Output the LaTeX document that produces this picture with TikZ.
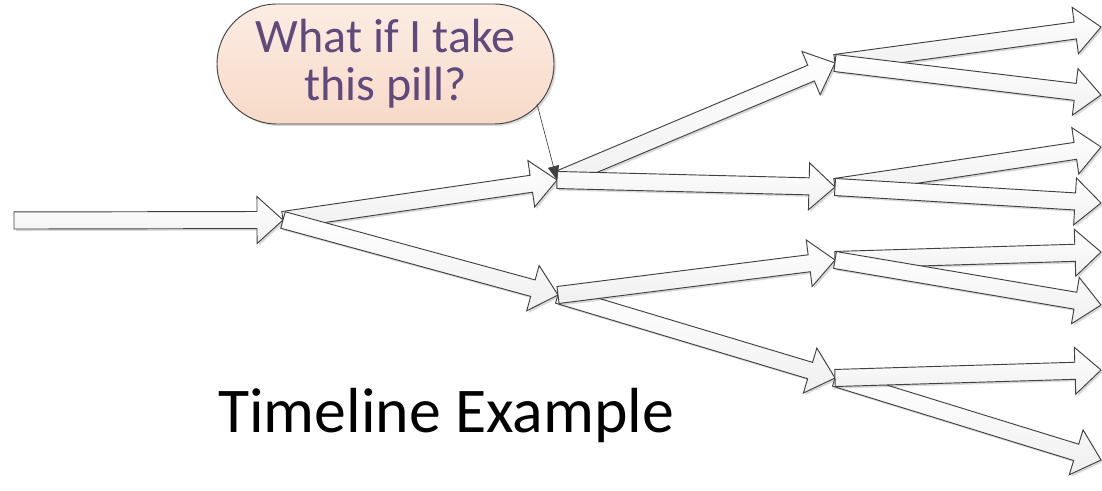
\documentclass[tikz,border=0pt]{standalone}
\usepackage{fontspec}
\setmainfont{Carlito}
\usetikzlibrary{calc,shadows,arrows.meta}
\definecolor{edgegray}{RGB}{64,64,64}
\definecolor{pilltop}{RGB}{252,236,227}
\definecolor{pillbot}{RGB}{247,218,200}
\definecolor{pilltext}{RGB}{96,74,124}
\tikzset{
  blockarrow/.style={draw=edgegray, line width=0.7pt, line join=miter,
    top color=white, bottom color=black!6,
    drop shadow={shadow xshift=1.5pt, shadow yshift=-1.5pt, opacity=0.15, fill=black}},
  pill/.style={draw=edgegray, line width=0.7pt, rounded corners=45pt,
    minimum width=252.75pt, minimum height=90pt, inner sep=0pt,
    top color=pilltop, bottom color=pillbot,
    drop shadow={shadow xshift=1.5pt, shadow yshift=-1.5pt, opacity=0.15, fill=black},
    text=pilltext, align=center, font=\fontsize{36}{36}\selectfont},
  conn/.style={draw=edgegray, line width=0.5pt, -{Triangle[length=10.5pt, width=8.5pt]}},
  title/.style={font=\fontsize{47.8}{56}\selectfont, text=black, inner sep=0pt}
}
\newcommand\barrow[2]{%
  \coordinate (bc) at ($(#2)!19.5pt!(#1)$);
  \path[blockarrow] ($(#1)!6.4pt!90:(#2)$) -- ($(bc)!6.4pt!-90:(#1)$)
    -- ($(bc)!17.6pt!-90:(#1)$) -- (#2) -- ($(bc)!17.6pt!90:(#1)$)
    -- ($(bc)!6.4pt!90:(#1)$) -- ($(#1)!6.4pt!-90:(#2)$) -- cycle;
}
\begin{document}
\begin{tikzpicture}[x=0.75pt,y=-0.75pt]
\useasboundingbox (0,0) rectangle (1102,491);
% junction points
\coordinate (s0) at (14,220.5);
\coordinate (j0) at (283,220);
\coordinate (j1) at (557,180);
\coordinate (j2) at (558,295);
\coordinate (k1) at (835,63);
\coordinate (k2) at (835,187);
\coordinate (k3) at (835,260);
\coordinate (k4) at (835,378);
\coordinate (r1) at (1101,27);
\coordinate (r2) at (1101,95);
\coordinate (r3) at (1101,147);
\coordinate (r4) at (1101,203);
\coordinate (r5) at (1101,252);
\coordinate (r6) at (1101,305);
\coordinate (r7) at (1101,370);
\coordinate (r8) at (1101,460);
% level 0
\barrow{s0}{j0}
% level 1
\barrow{j0}{j1}
\barrow{j0}{j2}
% level 2
\barrow{j1}{k1}
\barrow{j1}{k2}
\barrow{j2}{k4}
\barrow{j2}{k3}
% level 3
\barrow{k1}{r1}
\barrow{k1}{r2}
\barrow{k2}{r3}
\barrow{k2}{r4}
\barrow{k3}{r5}
\barrow{k3}{r6}
\barrow{k4}{r8}
\barrow{k4}{r7}
% callout
\node[pill] (q) at (385.5,64) {What if I take\\this pill?};
\coordinate (qc) at (537,104);
\draw[conn] (qc) -- (j1);
% title
\node[title, anchor=base west] (t) at (218,432) {Timeline Example};
\end{tikzpicture}
\end{document}
